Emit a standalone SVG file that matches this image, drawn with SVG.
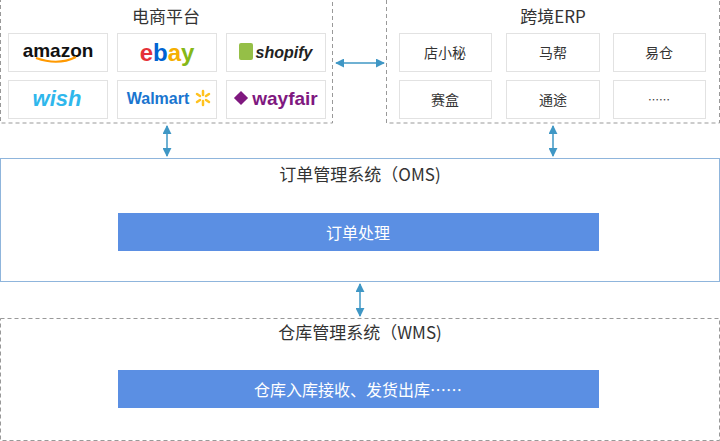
<svg xmlns="http://www.w3.org/2000/svg" width="720" height="441" viewBox="0 0 720 441">
<style>
.dash{fill:#fff;stroke:#999;stroke-width:1;stroke-dasharray:4 3}
.cell{fill:#fff;stroke:#e2e2e2;stroke-width:1}
.t{font-family:"Noto Sans CJK SC","Liberation Sans",sans-serif;fill:#333;text-anchor:middle;dominant-baseline:central}
.bar{fill:#5b8fe3}
.w{fill:#fff;font-size:16px}
.con{stroke:#3f97c5;stroke-width:1.5;fill:none;marker-start:url(#a);marker-end:url(#a)}
.logo{font-family:"Liberation Sans",sans-serif;font-weight:bold;text-anchor:middle;dominant-baseline:central}
</style>
<defs><marker id="a" viewBox="0 0 10 10" refX="9" refY="5" markerWidth="6" markerHeight="6" orient="auto-start-reverse"><path d="M0,0L10,5L0,10z" fill="#3f97c5"/></marker></defs>
<rect width="720" height="441" fill="#fff"/>
<g id="ecommerce">
<rect class="dash" x="0.5" y="-2" width="332" height="125"/>
<text class="t" x="166" y="15" font-size="17">电商平台</text>
<rect class="cell" x="8.5" y="33.5" width="99" height="38"/>
<rect class="cell" x="117.5" y="33.5" width="99" height="38"/>
<rect class="cell" x="226.5" y="33.5" width="99" height="38"/>
<rect class="cell" x="8.5" y="80.5" width="99" height="38"/>
<rect class="cell" x="117.5" y="80.5" width="99" height="38"/>
<rect class="cell" x="226.5" y="80.5" width="99" height="38"/>
<text class="logo" x="58" y="50" font-size="19" fill="#111">amazon</text>
<path d="M36,58 Q58,66 76,57" stroke="#f90" stroke-width="2" fill="none"/>
<text class="logo" x="167" y="52" font-size="24" font-weight="normal"><tspan fill="#e53238">e</tspan><tspan fill="#0064d2">b</tspan><tspan fill="#f5af02">a</tspan><tspan fill="#86b817">y</tspan></text>
<rect x="239" y="43" width="14" height="17" rx="2" fill="#95bf47"/>
<text class="logo" x="284" y="52" font-size="16" font-style="italic" fill="#222">shopify</text>
<text class="logo" x="57" y="98" font-size="22" fill="#2fb7ec" font-style="italic">wish</text>
<text class="logo" x="158" y="98" font-size="16" fill="#1a75cf">Walmart</text>
<g stroke="#ffc220" stroke-width="2.5" stroke-linecap="round"><path d="M203,91v4M203,101v4M197,94l3,2M206,100l3,2M197,102l3,-2M206,96l3,-2"/></g>
<rect x="236" y="93" width="10" height="10" fill="#7f187f" transform="rotate(45 241 98)"/>
<text class="logo" x="285" y="98" font-size="19" fill="#7f187f">wayfair</text>
</g>
<g id="erp">
<rect class="dash" x="386.5" y="-2" width="333" height="125"/>
<text class="t" x="553" y="15" font-size="17">跨境ERP</text>
<rect class="cell" x="399.5" y="33.5" width="92" height="38"/>
<rect class="cell" x="506.5" y="33.5" width="93" height="38"/>
<rect class="cell" x="613.5" y="33.5" width="92" height="38"/>
<rect class="cell" x="399.5" y="80.5" width="92" height="38"/>
<rect class="cell" x="506.5" y="80.5" width="93" height="38"/>
<rect class="cell" x="613.5" y="80.5" width="92" height="38"/>
<text class="t" x="445" y="52" font-size="14">店小秘</text>
<text class="t" x="553" y="52" font-size="14">马帮</text>
<text class="t" x="659" y="52" font-size="14">易仓</text>
<text class="t" x="445" y="99" font-size="14">赛盒</text>
<text class="t" x="553" y="99" font-size="14">通途</text>
<text class="t" x="659" y="99" font-size="11" fill="#777">……</text>
</g>
<g id="oms">
<rect x="0.5" y="158.5" width="719" height="123" fill="#fff" stroke="#8fb5dc"/>
<text class="t" x="360" y="173" font-size="17">订单管理系统（OMS)</text>
<rect class="bar" x="118" y="213" width="481" height="38"/>
<text class="t w" x="358" y="232">订单处理</text>
</g>
<g id="wms">
<rect class="dash" x="0.5" y="318.5" width="719" height="122"/>
<text class="t" x="360" y="331" font-size="17">仓库管理系统（WMS)</text>
<rect class="bar" x="118" y="370" width="481" height="38"/>
<text class="t w" x="358" y="389">仓库入库接收、发货出库……</text>
</g>
<g id="connectors">
<line class="con" x1="336" y1="63" x2="384" y2="63"/>
<line class="con" x1="167" y1="126" x2="167" y2="156"/>
<line class="con" x1="553" y1="126" x2="553" y2="156"/>
<line class="con" x1="360" y1="284" x2="360" y2="316"/>
</g>
</svg>
